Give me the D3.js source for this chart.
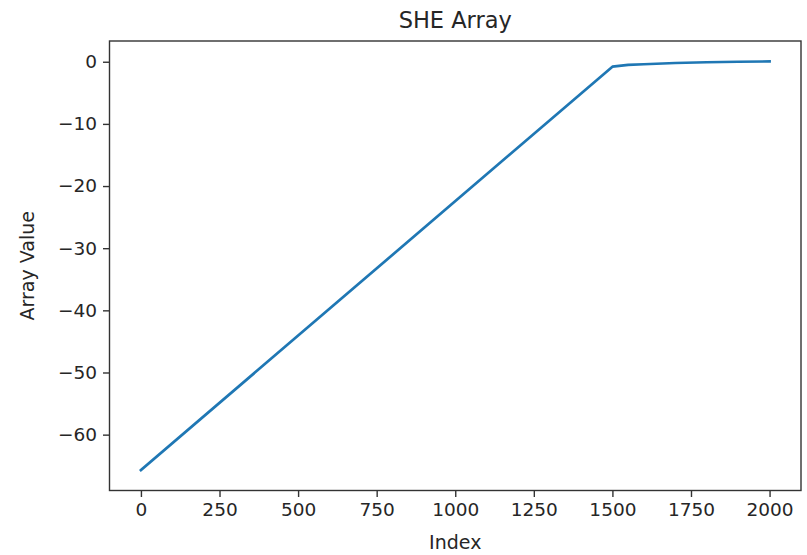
<!DOCTYPE html>
<html>
<head>
<meta charset="utf-8">
<script src="https://cdn.jsdelivr.net/npm/d3@7"></script>
<style>
  body { margin: 0; background: #fff; }
  text { font-family: "DejaVu Sans", sans-serif; fill: #262626; }
</style>
</head>
<body>
<div id="chart"></div>
<script>
// key points (index, value)
const indices = [0, 1500, 1550, 1600, 1700, 1800, 1900, 2000];
const values = [-65.7, -0.8, -0.5, -0.4, -0.2, -0.08, 0.0, 0.05];
const xTicks = [0, 250, 500, 750, 1000, 1250, 1500, 1750, 2000];
const yTicks = [0, -10, -20, -30, -40, -50, -60];

const width = 807;
const height = 555;
const margin = {top: 41, right: 6, bottom: 64.5, left: 109.5};

const svg = d3.select("#chart")
    .append("svg")
    .attr("width", width)
    .attr("height", height);

// matplotlib style 5% margins around the data
const xPad = (d3.max(indices) - d3.min(indices)) * 0.05;
const yPad = (d3.max(values) - d3.min(values)) * 0.05;

const x = d3.scaleLinear()
    .domain([d3.min(indices) - xPad, d3.max(indices) + xPad])
    .range([margin.left, width - margin.right]);

const y = d3.scaleLinear()
    .domain([d3.min(values) - yPad, d3.max(values) + yPad])
    .range([height - margin.bottom, margin.top]);

const points = indices.map((d, i) => [d, values[i]]);

svg.append("path")
    .datum(points)
    .attr("fill", "none")
    .attr("stroke", "#1f77b4")
    .attr("stroke-width", 2.7)
    .attr("stroke-linejoin", "round")
    .attr("stroke-linecap", "square")
    .attr("d", d3.line().x(d => x(d[0])).y(d => y(d[1])));

// axes
const xAxis = svg.append("g")
    .attr("transform", `translate(0,${height - margin.bottom})`)
    .call(d3.axisBottom(x).tickValues(xTicks).tickSize(6.5).tickPadding(6).tickFormat(d3.format("d")));

const yAxis = svg.append("g")
    .attr("transform", `translate(${margin.left},0)`)
    .call(d3.axisLeft(y).tickValues(yTicks).tickSize(6.5).tickPadding(6)
        .tickFormat(d => d < 0 ? "\u2212" + Math.abs(d) : d));

[xAxis, yAxis].forEach(g => {
    g.select(".domain").remove();
    g.selectAll(".tick line").attr("stroke", "#333").attr("stroke-width", 1.4);
    g.selectAll(".tick text").style("font-size", "18.5px").attr("fill", "#262626");
});

// frame
svg.append("rect")
    .attr("x", margin.left)
    .attr("y", margin.top)
    .attr("width", width - margin.right - margin.left)
    .attr("height", height - margin.bottom - margin.top)
    .attr("fill", "none")
    .attr("stroke", "#333")
    .attr("stroke-width", 1.4);

// title and labels
svg.append("text")
    .attr("x", (margin.left + width - margin.right) / 2)
    .attr("y", 28)
    .attr("text-anchor", "middle")
    .style("font-size", "22.5px")
    .text("SHE Array");

svg.append("text")
    .attr("x", (margin.left + width - margin.right) / 2)
    .attr("y", 549)
    .attr("text-anchor", "middle")
    .style("font-size", "19px")
    .text("Index");

svg.append("text")
    .attr("transform", `translate(34,${(margin.top + height - margin.bottom) / 2}) rotate(-90)`)
    .attr("text-anchor", "middle")
    .style("font-size", "19px")
    .text("Array Value");
</script>
</body>
</html>
